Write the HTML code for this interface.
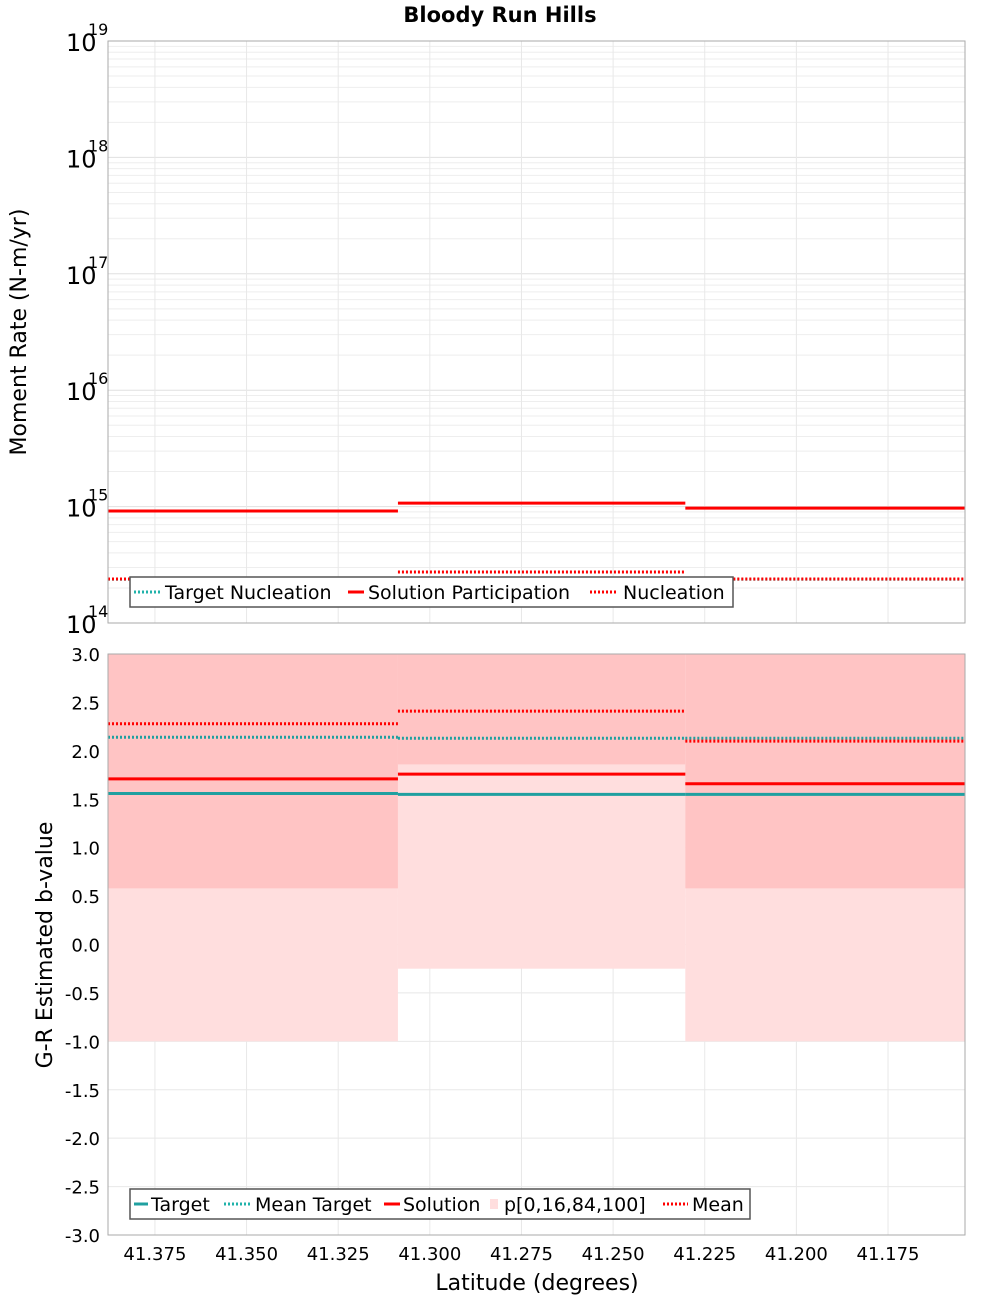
<!DOCTYPE html>
<html><head><meta charset="utf-8"><style>
body{margin:0;background:#fff;font-family:"DejaVu Sans","Liberation Sans",sans-serif}
svg text{font-family:"DejaVu Sans","Liberation Sans",sans-serif}
</style></head><body>
<svg id="c" width="1000" height="1300" xmlns="http://www.w3.org/2000/svg"></svg>
<script>
const segEdges = [41.3878, 41.3087, 41.2303, 41.154];
const xTicks = [41.375, 41.350, 41.325, 41.300, 41.275, 41.250, 41.225, 41.200, 41.175];
const xTickLabels = ["41.375","41.350","41.325","41.300","41.275","41.250","41.225","41.200","41.175"];
const solPart = [9.16e14, 1.07e15, 9.7e14];
const nucleation = [2.39e14, 2.74e14, 2.39e14];
const targetNuc = [2.37e14, 2.37e14, 2.37e14];
const topExps = [14,15,16,17,18,19];
const bTarget = [1.56, 1.55, 1.55];
const bMeanTarget = [2.14, 2.13, 2.13];
const bSolution = [1.71, 1.76, 1.66];
const bMean = [2.28, 2.41, 2.10];
const pMin = [-1.0, -0.25, -1.0];
const p16 = [0.58, 1.86, 0.58];
const p84 = [3.0, 3.0, 3.0];
const pMax = [3.0, 3.0, 3.0];
const bTicks = [3.0,2.5,2.0,1.5,1.0,0.5,0.0,-0.5,-1.0,-1.5,-2.0,-2.5,-3.0];

const svg = document.getElementById('c');
const NS = 'http://www.w3.org/2000/svg';
function el(tag, attrs, parent){const e=document.createElementNS(NS,tag);for(const k in attrs)e.setAttribute(k,attrs[k]);(parent||svg).appendChild(e);return e;}
const L=108,R=965,T1=41,B1=623,T2=654,B2=1235;
const x = v => L + (segEdges[0]-v)/(segEdges[0]-segEdges[3])*(R-L);
const yTop = v => B1 - (Math.log10(v)-14)/5*(B1-T1);
const yB = v => T2 + (3-v)/6*(B2-T2);

// title
let t=el('text',{x:500,y:22,'text-anchor':'middle','font-size':21,'font-weight':'bold'});t.textContent='Bloody Run Hills';


// ---- top panel
let g=el('g',{});
el('rect',{x:L,y:T1,width:R-L,height:B1-T1,fill:'#fff'},g);
for(let e=14;e<19;e++){for(let m=2;m<=9;m++){const yy=yTop(m*Math.pow(10,e));el('line',{x1:L,x2:R,y1:yy,y2:yy,stroke:'#eeeeee','stroke-width':1},g);}}
topExps.forEach(e=>{const yy=yTop(Math.pow(10,e));el('line',{x1:L,x2:R,y1:yy,y2:yy,stroke:'#e0e0e0'},g);
 const tx=el('text',{x:66,y:yy+10,'font-size':24},g);tx.textContent='10';
 const ts=el('text',{x:88,y:yy-6,'font-size':16},g);ts.textContent=String(e);
 });
xTicks.forEach(v=>el('line',{x1:x(v),x2:x(v),y1:T1,y2:B1,stroke:'#e8e8e8'},g));
for(let i=0;i<3;i++){
 const x1=x(segEdges[i]),x2=x(segEdges[i+1]);
 let a=el('line',{x1,x2,y1:yTop(targetNuc[i]),y2:yTop(targetNuc[i]),stroke:'#20b2aa','stroke-width':3,'stroke-dasharray':'2 2',opacity:0.6},g);
 
 a=el('line',{x1,x2,y1:yTop(solPart[i]),y2:yTop(solPart[i]),stroke:'#ff0000','stroke-width':3},g);
 
 a=el('line',{x1,x2,y1:yTop(nucleation[i]),y2:yTop(nucleation[i]),stroke:'#ff0000','stroke-width':3,'stroke-dasharray':'2 2'},g);
 
}
el('rect',{x:L,y:T1,width:R-L,height:B1-T1,fill:'none',stroke:'#aaa'},g);
let yl=el('text',{x:0,y:0,'font-size':22,'text-anchor':'middle',transform:'translate(26,332) rotate(-90)'});yl.textContent='Moment Rate (N-m/yr)';

// top legend
let lg=el('g',{});
el('rect',{x:130,y:577,width:603,height:30,fill:'#fff',stroke:'#555','stroke-width':1.5},lg);
el('line',{x1:134,x2:160,y1:592,y2:592,stroke:'#20b2aa','stroke-width':3,'stroke-dasharray':'2 2'},lg);
let lt=el('text',{x:165,y:599,'font-size':19},lg);lt.textContent='Target Nucleation';
el('line',{x1:348,x2:364,y1:592,y2:592,stroke:'#f00','stroke-width':3},lg);
lt=el('text',{x:368,y:599,'font-size':19},lg);lt.textContent='Solution Participation';
el('line',{x1:590,x2:618,y1:592,y2:592,stroke:'#f00','stroke-width':3,'stroke-dasharray':'2 2'},lg);
lt=el('text',{x:623,y:599,'font-size':19},lg);lt.textContent='Nucleation';

// ---- bottom panel
g=el('g',{});
el('rect',{x:L,y:T2,width:R-L,height:B2-T2,fill:'#fff'},g);
bTicks.forEach(v=>{const yy=yB(v);el('line',{x1:L,x2:R,y1:yy,y2:yy,stroke:'#e8e8e8'},g);
 const tx=el('text',{x:100,y:yy+7,'font-size':18,'text-anchor':'end'},g);tx.textContent=v.toFixed(1);
 });
xTicks.forEach((v,i)=>{el('line',{x1:x(v),x2:x(v),y1:T2,y2:B2,stroke:'#e8e8e8'},g);
 const tx=el('text',{x:x(v),y:1260,'font-size':18,'text-anchor':'middle'});tx.textContent=xTickLabels[i];
 });
for(let i=0;i<3;i++){
 const x1=x(segEdges[i]),x2=x(segEdges[i+1]);
 let a=el('rect',{x:x1,y:yB(pMax[i]),width:x2-x1,height:yB(pMin[i])-yB(pMax[i]),fill:'#ffdede'},g);
 
 a=el('rect',{x:x1,y:yB(p84[i]),width:x2-x1,height:yB(p16[i])-yB(p84[i]),fill:'#ffc4c4'},g);
 
}
for(let i=0;i<3;i++){
 const x1=x(segEdges[i]),x2=x(segEdges[i+1]);
 let a=el('line',{x1,x2,y1:yB(bMeanTarget[i]),y2:yB(bMeanTarget[i]),stroke:'#20a0a0','stroke-width':3,'stroke-dasharray':'2 2'},g);
 
 a=el('line',{x1,x2,y1:yB(bTarget[i]),y2:yB(bTarget[i]),stroke:'#20a0a0','stroke-width':3},g);
 
 a=el('line',{x1,x2,y1:yB(bSolution[i]),y2:yB(bSolution[i]),stroke:'#f00','stroke-width':3},g);
 
 a=el('line',{x1,x2,y1:yB(bMean[i]),y2:yB(bMean[i]),stroke:'#f00','stroke-width':3,'stroke-dasharray':'2 2'},g);
 
}
el('rect',{x:L,y:T2,width:R-L,height:B2-T2,fill:'none',stroke:'#aaa'},g);
yl=el('text',{x:0,y:0,'font-size':22,'text-anchor':'middle',transform:'translate(52,945) rotate(-90)'});yl.textContent='G-R Estimated b-value';

let xl=el('text',{x:537,y:1290,'font-size':22,'text-anchor':'middle'});xl.textContent='Latitude (degrees)';

// bottom legend
lg=el('g',{});
el('rect',{x:130,y:1189,width:620,height:30,fill:'#fff',stroke:'#555','stroke-width':1.5},lg);
el('line',{x1:134,x2:148,y1:1204,y2:1204,stroke:'#20a0a0','stroke-width':3},lg);
lt=el('text',{x:151,y:1211,'font-size':19},lg);lt.textContent='Target';
el('line',{x1:224,x2:250,y1:1204,y2:1204,stroke:'#20b2aa','stroke-width':3,'stroke-dasharray':'2 2'},lg);
lt=el('text',{x:255,y:1211,'font-size':19},lg);lt.textContent='Mean Target';
el('line',{x1:384,x2:400,y1:1204,y2:1204,stroke:'#f00','stroke-width':3},lg);
lt=el('text',{x:403,y:1211,'font-size':19},lg);lt.textContent='Solution';
el('rect',{x:490,y:1199,width:8,height:10,fill:'#ffdede'},lg);
lt=el('text',{x:504,y:1211,'font-size':19},lg);lt.textContent='p[0,16,84,100]';
el('line',{x1:663,x2:688,y1:1204,y2:1204,stroke:'#f00','stroke-width':3,'stroke-dasharray':'2 2'},lg);
lt=el('text',{x:692,y:1211,'font-size':19},lg);lt.textContent='Mean';
</script>
</body></html>
